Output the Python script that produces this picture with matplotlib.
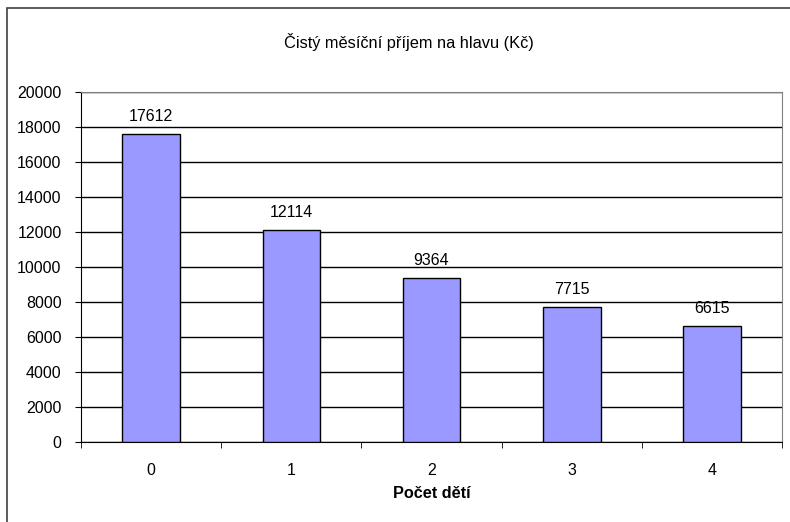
import matplotlib.pyplot as plt
from matplotlib.patches import Rectangle
from matplotlib.ticker import FixedLocator

categories = ['0', '1', '2', '3', '4']
values = [17612, 12114, 9364, 7715, 6615]
y_ticks = list(range(0, 20001, 2000))

plt.rcParams['font.family'] = ['Liberation Sans', 'DejaVu Sans']

fig = plt.figure(figsize=(7.9, 5.22), dpi=100)
ax = fig.add_axes([0.1025, 0.1533, 0.8875, 0.6705])

x = list(range(len(categories)))
ax.bar(x, values, width=0.41, color='#9999ff', edgecolor='black', linewidth=1, zorder=3)
for xi, v in zip(x, values):
    ax.annotate(str(v), (xi, v), xytext=(0, 7), textcoords='offset points',
                ha='center', va='bottom', fontsize=11.5)

ax.set_xlim(-0.5, len(categories) - 0.5)
ax.set_ylim(0, 20000)
ax.set_yticks(y_ticks)
ax.set_xticks(x)
ax.set_xticklabels(categories, fontsize=11.5)
ax.xaxis.set_minor_locator(FixedLocator([i - 0.5 for i in range(len(categories) + 1)]))
ax.tick_params(axis='x', which='major', length=0, pad=15)
ax.tick_params(axis='x', which='minor', length=4, direction='out', color='black')
ax.tick_params(axis='y', length=4, direction='out', labelsize=11.5, pad=10)
ax.yaxis.grid(True, color='black', linewidth=1, zorder=0)
ax.set_axisbelow(True)

for side in ['top', 'right']:
    ax.spines[side].set_color('#808080')
for side in ['left', 'bottom']:
    ax.spines[side].set_color('black')

ax.set_xlabel('Počet dětí', fontsize=11.7, fontweight='bold', labelpad=6)
fig.text(0.518, 0.9195, 'Čistý měsíční příjem na hlavu (Kč)', ha='center', va='center', fontsize=11.8)

fig.patches.append(Rectangle((0.009, -0.05), 1.1, 1.035, transform=fig.transFigure,
                             fill=False, edgecolor='#404040', linewidth=1.2))

fig.savefig('out.png', dpi=100)
